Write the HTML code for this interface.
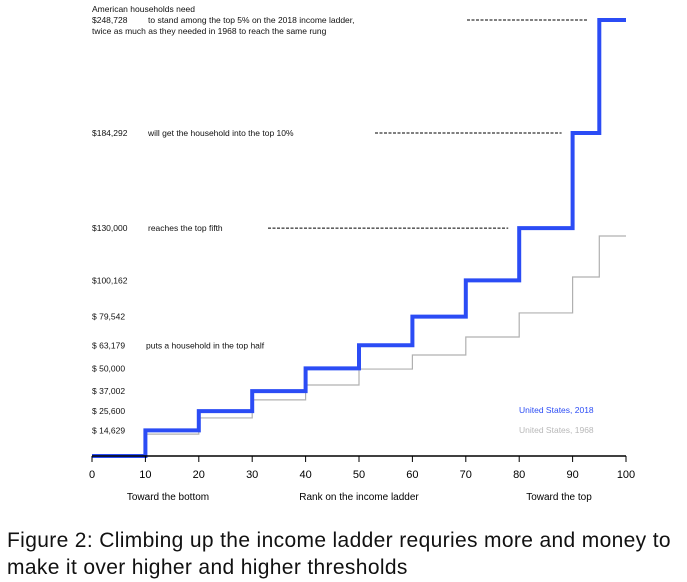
<!DOCTYPE html>
<html><head><meta charset="utf-8"><style>
body{margin:0;background:#fff;width:687px;height:582px;overflow:hidden;font-family:"Liberation Sans",sans-serif}
svg text{font-family:"Liberation Sans",sans-serif}
.cap{position:absolute;left:7px;top:527px;font-size:21px;line-height:27px;color:#111;white-space:nowrap;letter-spacing:0.35px}
</style></head><body>
<svg id="chart" width="687" height="525" style="position:absolute;left:0;top:0"></svg>
<div class="cap">Figure 2: Climbing up the income ladder requries more and money to<br>make it over higher and higher thresholds</div>
<script>
const pctEdges=[0,10,20,30,40,50,60,70,80,90,95,100];
const values2018=[0,14629,25600,37002,50000,63179,79542,100162,130000,184292,248728];
const values1968=[0,12500,21700,32000,40500,49600,57600,67900,81600,102100,125500];
const xTicks=[0,10,20,30,40,50,60,70,80,90,100];
const yLabels=[14629,25600,37002,50000,63179,79542,100162,130000,184292,248728];
const yLabelText=["$ 14,629","$ 25,600","$ 37,002","$ 50,000","$ 63,179","$ 79,542","$100,162","$130,000","$184,292","$248,728"];
const notes=[[63179,"puts a household in the top half",null,0],[130000,"reaches the top fifth",80,268],[184292,"will get the household into the top 10%",90,375],[248728,"to stand among the top 5% on the 2018 income ladder,",95,467]];
const X=v=>92+v*5.34, Y=v=>456-v*436/248728;
const svg=document.getElementById('chart'),NS='http://www.w3.org/2000/svg';
function mk(t,a,p){const e=document.createElementNS(NS,t);for(const k in a)e.setAttribute(k,a[k]);(p||svg).appendChild(e);return e;}
function stepPath(vals){let d='M'+X(0)+' '+Y(vals[0]);for(let i=0;i<vals.length;i++){if(i>0)d+=' L'+X(pctEdges[i])+' '+Y(vals[i]);d+=' L'+X(pctEdges[i+1])+' '+Y(vals[i]);}return d;}
let p=mk('path',{d:stepPath(values1968),fill:'none',stroke:'#b0b0b0','stroke-width':1.2});

p=mk('path',{d:stepPath(values2018),fill:'none',stroke:'#2b4cf5','stroke-width':4});

let a=mk('line',{x1:X(0),x2:X(100),y1:456,y2:456,stroke:'#000','stroke-width':1.5});

xTicks.forEach(t=>{let l=mk('line',{x1:X(t),x2:X(t),y1:456,y2:462,stroke:'#000'});

let tx=mk('text',{x:X(t),y:478,'font-size':11,'text-anchor':'middle'});tx.textContent=t;
});
yLabels.forEach((v,i)=>{let tx=mk('text',{x:92,y:Y(v)+3,'font-size':8.5,fill:'#111'});tx.textContent=yLabelText[i];
});
notes.forEach(n=>{let tx=mk('text',{x:n[0]===63179?146:148,y:Y(n[0])+3,'font-size':8.5,fill:'#111'});tx.textContent=n[1];

if(n[2]!==null){let l=mk('line',{x1:n[3],x2:X(n[2])-11,y1:Y(n[0]),y2:Y(n[0]),stroke:'#000','stroke-dasharray':'3,1.5','stroke-width':1});
}});
[["American households need",92,12],["twice as much as they needed in 1968 to reach the same rung",92,34]].forEach(t=>{let tx=mk('text',{x:t[1],y:t[2],'font-size':8.5,fill:'#111'});tx.textContent=t[0];
});
[["Toward the bottom",168],["Rank on the income ladder",359],["Toward the top",559]].forEach(t=>{let tx=mk('text',{x:t[1],y:500,'font-size':10,'text-anchor':'middle'});tx.textContent=t[0];
});
let lg=mk('text',{x:519,y:413,'font-size':8.5,fill:'#2b4cf5'});lg.textContent='United States, 2018';

lg=mk('text',{x:519,y:433,'font-size':8.5,fill:'#b8b8b8'});lg.textContent='United States, 1968';

</script>
</body></html>
